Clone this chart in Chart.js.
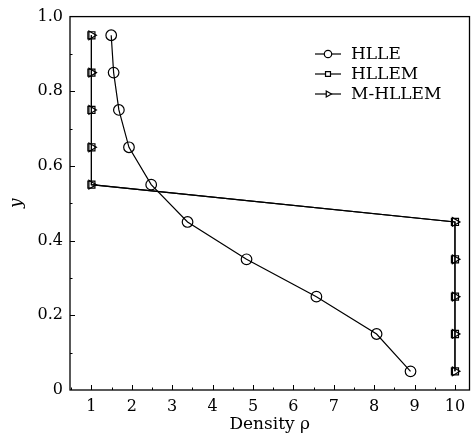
<!DOCTYPE html>
<html lang="en">
<head>
  <meta charset="UTF-8" />
  <title>Density profile</title>
  <script src="https://cdn.jsdelivr.net/npm/chart.js"></script>
  <style>
    html, body {
      margin: 0;
      padding: 0;
      background: #fff;
    }
    #wrap {
      width: 476px;
      height: 437px;
    }
  </style>
</head>
<body>
  <div id="wrap"><canvas id="densityChart" width="476" height="437"></canvas></div>

  <script>
    // cell centres along y
    const yCells = [0.95, 0.85, 0.75, 0.65, 0.55, 0.45, 0.35, 0.25, 0.15, 0.05];
    // density per scheme
    const rhoHLLE   = [1.49, 1.55, 1.68, 1.93, 2.48, 3.38, 4.84, 6.57, 8.06, 8.90];
    const rhoHLLEM  = [1, 1, 1, 1, 1, 10, 10, 10, 10, 10];
    const rhoMHLLEM = [1, 1, 1, 1, 1, 10, 10, 10, 10, 10];

    const seriesNames = ["HLLE", "HLLEM", "M-HLLEM"];
    const xTicks = [1, 2, 3, 4, 5, 6, 7, 8, 9, 10];
    const yTicks = [0, 0.2, 0.4, 0.6, 0.8, 1.0];
    const yTickText = ["0", "0.2", "0.4", "0.6", "0.8", "1.0"];

    const serif = "'DejaVu Serif', 'Liberation Serif', serif";

    function toPoints(xs) {
      return xs.map((x, i) => ({ x: x, y: yCells[i] }));
    }

    const styles = [
      { pointStyle: "circle", radius: 5.3, rotation: 0 },
      { pointStyle: "rect", radius: 5, rotation: 0 },
      { pointStyle: "triangle", radius: 5, rotation: 90 }
    ];

    const datasets = [rhoHLLE, rhoHLLEM, rhoMHLLEM].map((vals, i) => ({
      label: seriesNames[i],
      data: toPoints(vals),
      borderColor: "#000",
      borderWidth: 1.2,
      backgroundColor: "rgba(0,0,0,0)",
      pointStyle: styles[i].pointStyle,
      pointRadius: styles[i].radius,
      pointRotation: styles[i].rotation,
      pointBorderColor: "#000",
      pointBorderWidth: 1.2,
      pointBackgroundColor: "rgba(0,0,0,0)",
      showLine: true,
      tension: 0
    }));

    // frame around the plot plus inward tick marks
    const frameTicks = {
      id: "frameTicks",
      afterDraw(chart) {
        const { ctx, chartArea: a, scales } = chart;
        ctx.save();
        ctx.strokeStyle = "#000";
        ctx.lineWidth = 1.3;
        ctx.strokeRect(a.left, a.top, a.right - a.left, a.bottom - a.top);

        ctx.lineWidth = 1;
        ctx.beginPath();
        const xs = scales.x;
        for (let v = 0.5; v <= xs.max; v += 0.5) {
          if (v < xs.min) continue;
          const px = Math.round(xs.getPixelForValue(v)) + 0.5;
          const len = Number.isInteger(v) ? 5 : 2.5;
          ctx.moveTo(px, a.bottom);
          ctx.lineTo(px, a.bottom - len);
        }
        const ys = scales.y;
        for (let k = 1; k < 10; k++) {
          const v = k / 10;
          const py = Math.round(ys.getPixelForValue(v)) + 0.5;
          const len = k % 2 === 0 ? 5 : 2.5;
          ctx.moveTo(a.left, py);
          ctx.lineTo(a.left + len, py);
        }
        ctx.stroke();
        ctx.restore();
      }
    };

    // legend in the upper right of the plot area
    const innerLegend = {
      id: "innerLegend",
      afterDraw(chart) {
        const { ctx } = chart;
        const x0 = 315, x1 = 341, textX = 351;
        const rowY = [54, 74, 94];
        ctx.save();
        ctx.strokeStyle = "#000";
        ctx.lineWidth = 1.2;
        ctx.font = "17px " + serif;
        ctx.textBaseline = "middle";
        chart.data.datasets.forEach((ds, i) => {
          const y = rowY[i];
          ctx.beginPath();
          ctx.moveTo(x0, y);
          ctx.lineTo(x1, y);
          ctx.stroke();
          // hollow marker: white fill hides the line behind it
          ctx.fillStyle = "#fff";
          Chart.helpers.drawPoint(ctx, {
            pointStyle: ds.pointStyle,
            radius: ds.pointRadius * 0.7,
            rotation: ds.pointRotation,
            borderWidth: 1.2
          }, (x0 + x1) / 2, y);
          ctx.fillStyle = "#000";
          ctx.fillText(ds.label, textX, y + 1);
        });
        ctx.restore();
      }
    };

    new Chart(document.getElementById("densityChart"), {
      type: "scatter",
      data: { datasets: datasets },
      options: {
        responsive: false,
        animation: false,
        layout: { padding: { top: 16, right: 2, left: 0, bottom: 0 } },
        scales: {
          x: {
            type: "linear",
            min: 0.47,
            max: 10.36,
            afterBuildTicks: s => { s.ticks = xTicks.map(v => ({ value: v })); },
            afterFit: s => { s.height = 47; },
            border: { display: false },
            grid: { display: false, drawTicks: false },
            ticks: {
              color: "#000",
              padding: 7,
              maxRotation: 0,
              autoSkip: false,
              font: { family: serif, size: 16 },
              callback: v => String(v)
            },
            title: {
              display: true,
              text: "Density ρ",
              color: "#000",
              font: { family: serif, size: 17 },
              padding: { top: 0, bottom: 2 }
            }
          },
          y: {
            type: "linear",
            min: 0,
            max: 1,
            afterBuildTicks: s => { s.ticks = yTicks.map(v => ({ value: v })); },
            afterFit: s => { s.width = 70; },
            border: { display: false },
            grid: { display: false, drawTicks: false },
            ticks: {
              color: "#000",
              padding: 7,
              autoSkip: false,
              font: { family: serif, size: 16 },
              callback: v => yTickText[yTicks.indexOf(v)]
            },
            title: {
              display: true,
              text: "y",
              color: "#000",
              font: { family: serif, size: 17, style: "italic" },
              padding: { top: 6, bottom: 0 }
            }
          }
        },
        plugins: {
          legend: { display: false },
          tooltip: { enabled: false }
        }
      },
      plugins: [frameTicks, innerLegend]
    });
  </script>
</body>
</html>
